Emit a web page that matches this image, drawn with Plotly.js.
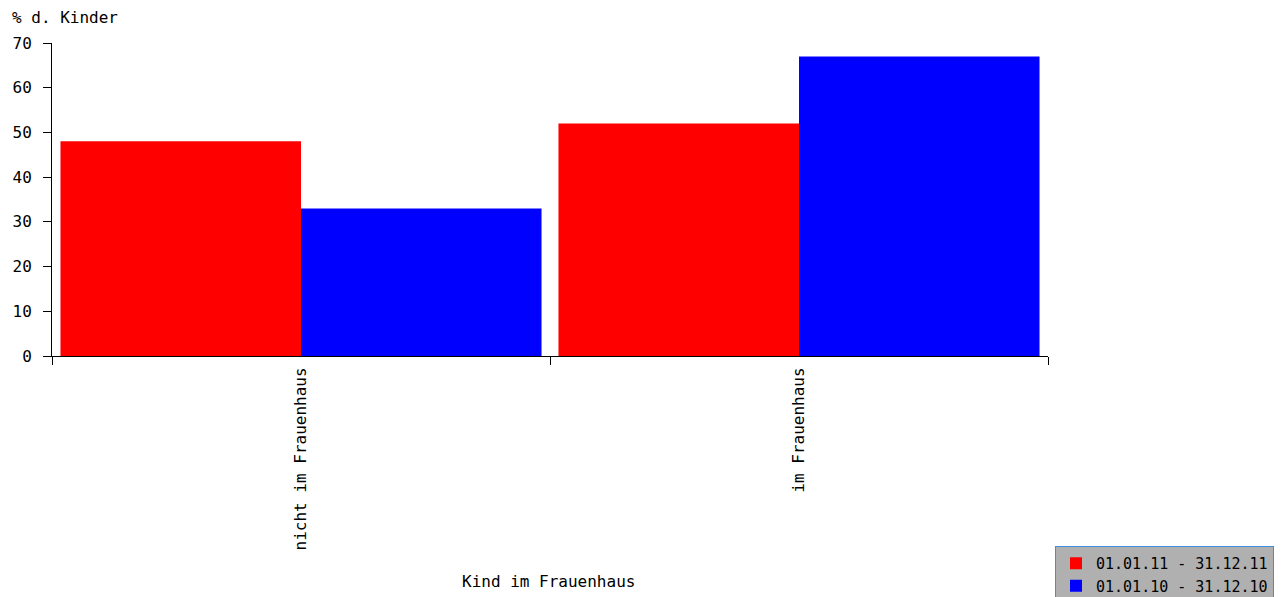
<!DOCTYPE html>
<html><head><meta charset="utf-8">
<script src="https://cdn.plot.ly/plotly-3.0.1.min.js"></script>
<style>html,body{margin:0;padding:0;background:#fff}#c{width:1283px;height:597px}</style>
</head><body><div id="c"></div>
<script>
const categories = ["nicht im Frauenhaus", "im Frauenhaus"];
const seriesNames = ["01.01.11 - 31.12.11", "01.01.10 - 31.12.10"];
const values2011 = [48, 52];
const values2010 = [33, 67];
const yTicks = [0, 10, 20, 30, 40, 50, 60, 70];
const FONT = "DejaVu Sans Mono, monospace";
const F = {family: FONT, size: 16, color: "#000"};

const data = [
  {type: "bar", x: categories, y: values2011, name: seriesNames[0], marker: {color: "#ff0000"}},
  {type: "bar", x: categories, y: values2010, name: seriesNames[1], marker: {color: "#0000ff"}}
];
const layout = {
  width: 1283, height: 597,
  margin: {l: 52, r: 235, t: 43, b: 241, autoexpand: false},
  paper_bgcolor: "#fff", plot_bgcolor: "#fff",
  barmode: "group", bargap: 0.034, bargroupgap: 0,
  font: F,
  showlegend: true,
  legend: {xref: "container", yref: "container", x: 1055/1283, xanchor: "left", y: 1 - 546/597, yanchor: "top",
    bgcolor: "#b0b0b0", bordercolor: "#3c8ee0", borderwidth: 1,
    font: {family: FONT, size: 15, color: "#000"}, itemwidth: 30, tracegroupgap: 0},
  xaxis: {type: "category", showline: true, linecolor: "#000", linewidth: 1,
    ticks: "outside", tickson: "boundaries", ticklen: 8, tickcolor: "#000",
    tickangle: -90, showgrid: false, zeroline: false, automargin: false,
    ticklabelstandoff: 4, tickfont: F},
  yaxis: {range: [0, 70], tickvals: yTicks, showline: true, linecolor: "#000", linewidth: 1,
    ticks: "outside", ticklen: 8, tickcolor: "#000", showgrid: false, zeroline: false, automargin: false,
    ticklabelstandoff: 8, tickfont: {family: FONT, size: 16, color: "#000"}},
  annotations: [
    {text: "% d. Kinder", xref: "paper", yref: "paper", x: (10-52)/996, y: (356-18)/313,
      xanchor: "left", yanchor: "middle", showarrow: false, font: F},
    {text: "Kind im Frauenhaus", xref: "paper", yref: "paper", x: (548-52)/996, y: (356-581)/313,
      xanchor: "center", yanchor: "middle", showarrow: false, font: F}
  ]
};
Plotly.newPlot("c", data, layout, {displayModeBar: false, staticPlot: true});
</script></body></html>
